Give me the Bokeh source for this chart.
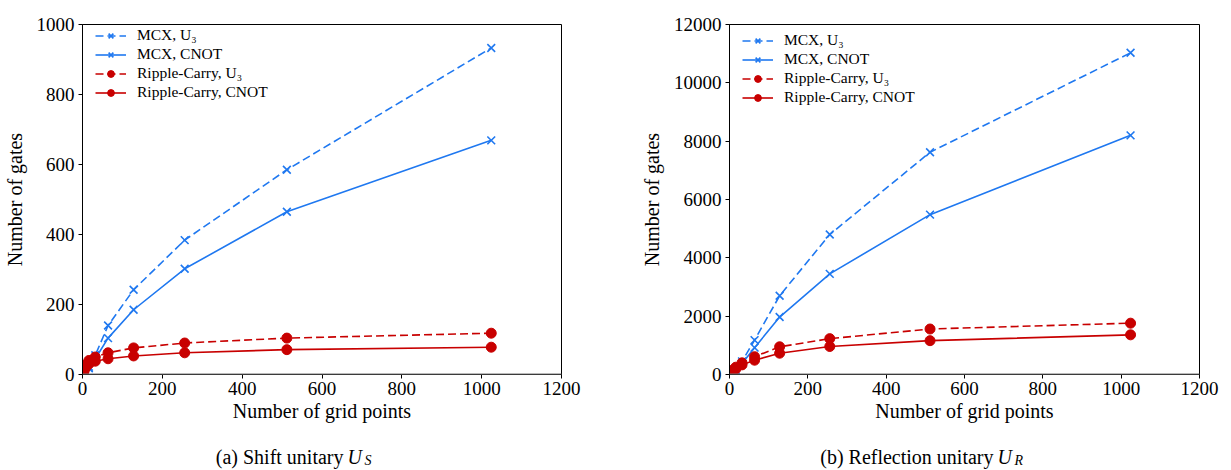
from bokeh.plotting import figure
from bokeh.layouts import row, column
from bokeh.models import Range1d, Span, FixedTicker
from bokeh.core.properties import value
from bokeh.embed import file_html
from bokeh.resources import INLINE

# ---- data ----
grid_points = [4, 8, 16, 32, 64, 128, 256, 512, 1024]

shift_mcx_u3 = [2, 8, 22, 55, 140, 242, 384, 585, 933]
shift_mcx_cnot = [2, 6, 18, 45, 104, 185, 302, 465, 669]
shift_rc_u3 = [14, 28, 40, 50, 62, 76, 90, 104, 118]
shift_rc_cnot = [10, 20, 30, 38, 45, 53, 62, 71, 78]

refl_mcx_u3 = [10, 50, 150, 450, 1180, 2700, 4800, 7620, 11030]
refl_mcx_cnot = [8, 40, 130, 380, 920, 1970, 3450, 5480, 8200]
refl_rc_u3 = [60, 150, 250, 400, 610, 950, 1230, 1560, 1760]
refl_rc_cnot = [40, 100, 190, 330, 490, 730, 960, 1160, 1360]

x_ticks = [0, 200, 400, 600, 800, 1000, 1200]
shift_y_ticks = [0, 200, 400, 600, 800, 1000]
refl_y_ticks = [0, 2000, 4000, 6000, 8000, 10000, 12000]

labels = ["MCX, U\u2083", "MCX, CNOT", "Ripple-Carry, U\u2083", "Ripple-Carry, CNOT"]
caption_a = "(a) Shift unitary"
caption_b = "(b) Reflection unitary"

BLUE = "#1f78f0"
RED = "#c80000"
FONT = "Liberation Serif"


def make_fig(width, height, ymax, yticks, series, bl, br, bt, bb):
    p = figure(width=width, height=height, output_backend="svg", toolbar_location=None,
               x_range=Range1d(0, 1200), y_range=Range1d(0, ymax),
               min_border_left=bl, min_border_right=br, min_border_top=bt, min_border_bottom=bb)
    p.xgrid.grid_line_color = None
    p.ygrid.grid_line_color = None
    p.outline_line_color = "black"
    p.outline_line_alpha = 1
    p.xaxis.ticker = FixedTicker(ticks=x_ticks)
    p.yaxis.ticker = FixedTicker(ticks=yticks)
    p.xaxis.axis_label = "Number of grid points"
    p.yaxis.axis_label = "Number of gates"
    for ax in (p.xaxis[0], p.yaxis[0]):
        ax.major_tick_in = 0
        ax.major_tick_out = 4
        ax.minor_tick_line_color = None
        ax.axis_line_color = "black"
        ax.major_tick_line_color = "black"
        ax.major_label_text_font = FONT
        ax.major_label_text_font_size = "19px"
        ax.major_label_text_color = "black"
        ax.axis_label_text_font = FONT
        ax.axis_label_text_font_style = "normal"
        ax.axis_label_text_font_size = "20px"
        ax.axis_label_text_color = "black"
    p.xaxis[0].major_label_standoff = 3
    p.xaxis[0].axis_label_standoff = 2
    p.yaxis[0].major_label_standoff = 4
    p.yaxis[0].axis_label_standoff = 8

    styles = [(BLUE, "8 4", "x"), (BLUE, "solid", "x"), (RED, "8 4", "circle"), (RED, "solid", "circle")]
    for (col, dash, marker), ys, lab in zip(styles, series, labels):
        p.line(grid_points, ys, line_color=col, line_width=1.6, line_dash=dash, legend_label=lab)
        if marker == "x":
            p.scatter(grid_points, ys, marker="x", size=11, line_color=col, line_width=1.6,
                      legend_label=lab)
        else:
            p.scatter(grid_points, ys, marker="circle", size=10, fill_color=col, line_color=col,
                      legend_label=lab)
    p.add_layout(Span(location=0, dimension="width", line_color="#777777", line_width=2))
    lg = p.legend[0]
    lg.border_line_color = None
    lg.background_fill_alpha = 1
    lg.margin = 0
    lg.padding = 0
    lg.spacing = 1
    lg.glyph_width = 31
    lg.glyph_height = 17
    lg.label_height = 17
    lg.label_standoff = 11
    lg.label_text_font = FONT
    lg.label_text_font_size = "15.5px"
    lg.label_text_color = "black"
    return p


p1 = make_fig(620, 440, 1000, shift_y_ticks,
              [shift_mcx_u3, shift_mcx_cnot, shift_rc_u3, shift_rc_cnot], 81, 59, 17, 66)
p1.legend[0].location = (13, 273)

p2 = make_fig(610, 440, 12000, refl_y_ticks,
              [refl_mcx_u3, refl_mcx_cnot, refl_rc_u3, refl_rc_cnot], 109, 31, 24, 65)
p2.legend[0].location = (13, 268)


def caption_fig(width, main, sub, x_main, x_u, x_sub):
    c = figure(width=width, height=29, output_backend="svg", toolbar_location=None,
               x_range=Range1d(0, width), y_range=Range1d(0, 29),
               x_axis_type=None, y_axis_type=None,
               min_border_left=0, min_border_right=0, min_border_top=0, min_border_bottom=0)
    c.xgrid.grid_line_color = None
    c.ygrid.grid_line_color = None
    c.outline_line_color = None
    c.text(x=[x_main], y=[13], text=[main], text_align="right", text_baseline="middle",
           text_font=value(FONT), text_font_size="20px", text_color="black")
    c.text(x=[x_u], y=[13], text=["U"], text_align="left", text_baseline="middle",
           text_font=value(FONT), text_font_size="20px", text_font_style="italic",
           text_color="black")
    c.text(x=[x_sub], y=[9], text=[sub], text_align="left", text_baseline="middle",
           text_font=value(FONT), text_font_size="14px", text_font_style="italic",
           text_color="black")
    return c


c1 = caption_fig(620, caption_a, "S", 343, 347, 364)
c2 = caption_fig(610, caption_b, "R", 373, 377, 394)

layout = column(row(p1, p2), row(c1, c2))
open("out.html", "w").write(file_html(layout, INLINE))
